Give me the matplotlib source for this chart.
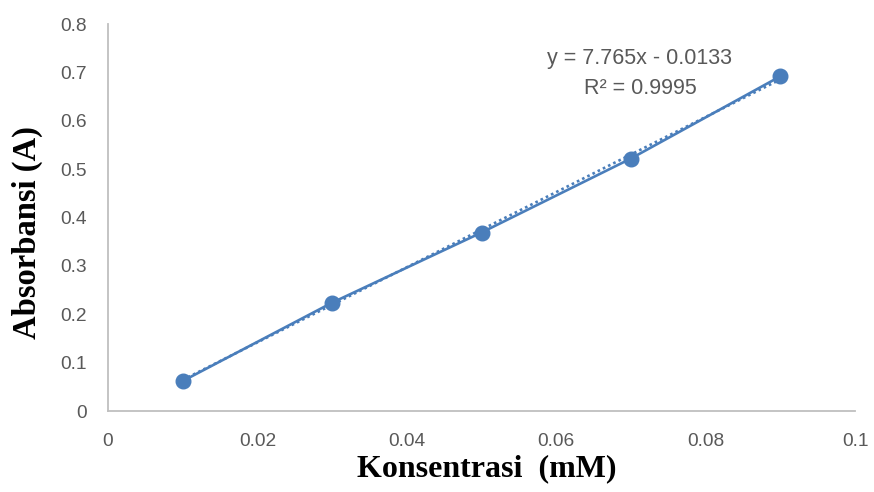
import numpy as np
import matplotlib.pyplot as plt

konsentrasi = [0.01, 0.03, 0.05, 0.07, 0.09]
absorbansi = [0.062, 0.224, 0.369, 0.522, 0.692]
x_ticks = [0, 0.02, 0.04, 0.06, 0.08, 0.1]
x_labels = ['0', '0.02', '0.04', '0.06', '0.08', '0.1']
y_ticks = [0, 0.1, 0.2, 0.3, 0.4, 0.5, 0.6, 0.7, 0.8]
y_labels = ['0', '0.1', '0.2', '0.3', '0.4', '0.5', '0.6', '0.7', '0.8']
slope = 7.765
intercept = -0.0133
r2 = 0.9995

blue = '#4a7ebb'
grey = '#595959'
tick_font = ['Liberation Sans', 'DejaVu Sans']

fig = plt.figure(figsize=(8.74, 4.92), dpi=100)
ax = fig.add_axes([0.1236, 0.1646, 0.8547, 0.7865])

ax.plot(konsentrasi, absorbansi, color=blue, lw=1.9, marker='o', ms=10.5, zorder=3)
xt = np.array([konsentrasi[0], konsentrasi[-1]])
ax.plot(xt, slope * xt + intercept, color=blue, lw=1.9, ls=(0, (1, 1.2)), zorder=2)

ax.set_xlim(0, 0.1)
ax.set_ylim(0, 0.8)
ax.set_xticks(x_ticks)
ax.set_xticklabels(x_labels)
ax.set_yticks(y_ticks)
ax.set_yticklabels(y_labels)
ax.tick_params(length=0, labelsize=13.8, labelcolor=grey)
ax.tick_params(axis='x', pad=16)
ax.tick_params(axis='y', pad=15)
for lab in ax.get_xticklabels() + ax.get_yticklabels():
    lab.set_family(tick_font)

for side in ['top', 'right']:
    ax.spines[side].set_visible(False)
for side in ['left', 'bottom']:
    ax.spines[side].set_color('#bfbfbf')
    ax.spines[side].set_linewidth(1.3)

ax.text(0.0712, 0.728, f'y = {slope}x - {abs(intercept)}', ha='center', va='center',
        fontsize=15.5, color=grey, family=tick_font)
ax.text(0.0712, 0.666, f'R² = {r2}', ha='center', va='center',
        fontsize=15.5, color=grey, family=tick_font)

fig.text(0.557, 0.047, 'Konsentrasi  (mM)', ha='center', va='center',
         fontsize=23, fontweight='bold', family='Liberation Serif')
fig.text(0.031, 0.528, 'Absorbansi (A)', ha='center', va='center', rotation=90,
         fontsize=23.5, fontweight='bold', family='Liberation Serif')

fig.savefig('out.png', dpi=100)
